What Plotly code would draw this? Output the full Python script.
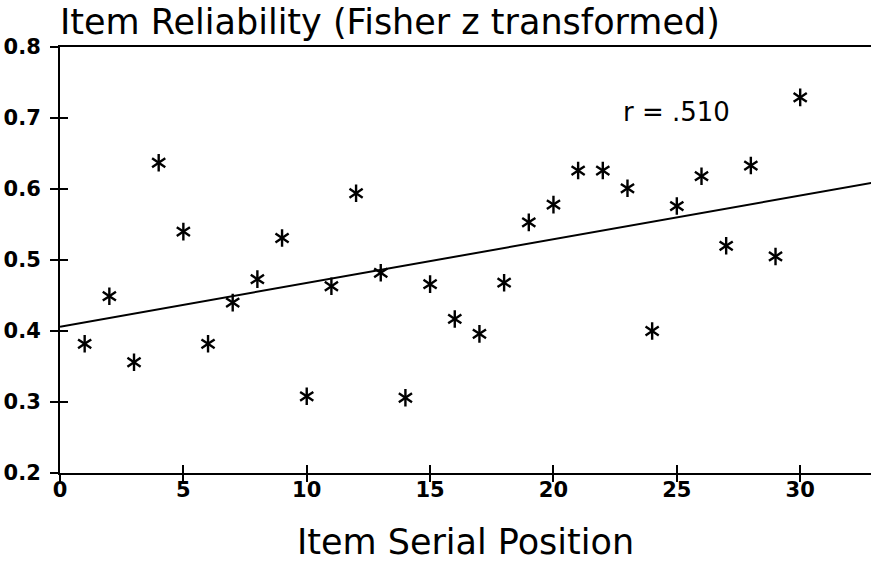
import plotly.graph_objects as go

# Data
positions = list(range(1, 31))
reliability = [0.382, 0.449, 0.356, 0.637, 0.540, 0.382, 0.440, 0.473, 0.531, 0.308,
               0.463, 0.594, 0.482, 0.306, 0.466, 0.417, 0.396, 0.468, 0.553, 0.578,
               0.626, 0.626, 0.601, 0.400, 0.576, 0.618, 0.520, 0.633, 0.505, 0.729]
fit_intercept = 0.406
fit_slope = 0.00616
fit_x = [0, 33]
fit_y = [fit_intercept + fit_slope * x for x in fit_x]

x_ticks = [0, 5, 10, 15, 20, 25, 30]
y_ticks = [0.2, 0.3, 0.4, 0.5, 0.6, 0.7, 0.8]
y_ticklabels = ["0.2", "0.3", "0.4", "0.5", "0.6", "0.7", "0.8"]

title_text = "Item Reliability (Fisher z transformed)"
x_title = "Item Serial Position"
r_text = "r = .510"

X_RANGE = [0, 32.87]
Y_RANGE = [0.2, 0.8]

fig = go.Figure()
fig.add_trace(go.Scatter(x=fit_x, y=fit_y, mode="lines",
                         line=dict(color="black", width=2), hoverinfo="skip"))
for sym in ["y-up-open", "y-down-open"]:
    fig.add_trace(go.Scatter(x=positions, y=reliability, mode="markers",
                             marker=dict(symbol=sym, size=11, color="black",
                                         line=dict(color="black", width=2.4))))
# invisible trace for overlay axes (crossing ticks)
fig.add_trace(go.Scatter(x=[None], y=[None], xaxis="x2", yaxis="y2",
                         mode="markers", showlegend=False, hoverinfo="skip"))

tickfont = dict(family="DejaVu Sans", size=21, color="black", weight="bold")

fig.update_layout(
    width=871, height=563,
    margin=dict(l=60, r=0, t=47, b=90),
    paper_bgcolor="white", plot_bgcolor="white",
    showlegend=False,
    xaxis=dict(range=X_RANGE, tickvals=x_ticks, ticks="inside", ticklen=8,
               tickwidth=1.5, tickcolor="black", showgrid=False, zeroline=False,
               showline=True, linecolor="black", linewidth=2, mirror=True,
               tickfont=tickfont, ticklabelstandoff=-3,
               title=dict(text=x_title, standoff=28,
                          font=dict(family="DejaVu Sans", size=35, color="black"))),
    yaxis=dict(range=Y_RANGE, tickvals=y_ticks, ticktext=y_ticklabels,
               ticks="outside", ticklen=8, tickwidth=1.5, tickcolor="black",
               showgrid=False, zeroline=False, showline=True, linecolor="black",
               linewidth=2, tickfont=tickfont, ticklabelstandoff=5),
    xaxis2=dict(range=X_RANGE, overlaying="x", tickvals=x_ticks, ticks="outside",
                ticklen=8, tickwidth=1.5, tickcolor="black", showticklabels=False,
                showgrid=False, zeroline=False, showline=False, side="bottom"),
    yaxis2=dict(range=Y_RANGE, overlaying="y", tickvals=y_ticks, ticks="inside",
                ticklen=8, tickwidth=1.5, tickcolor="black", showticklabels=False,
                showgrid=False, zeroline=False, showline=False, side="left"),
    annotations=[
        dict(text=r_text, x=25.0, y=0.709, xref="x", yref="y", showarrow=False,
             font=dict(family="DejaVu Sans", size=26, color="black")),
        dict(text=title_text, x=-2 / 811, y=1, xref="paper", yref="paper",
             xanchor="left", yanchor="bottom", yshift=3, showarrow=False,
             font=dict(family="DejaVu Sans", size=35, color="black")),
    ],
)

fig.write_html("out.html")
